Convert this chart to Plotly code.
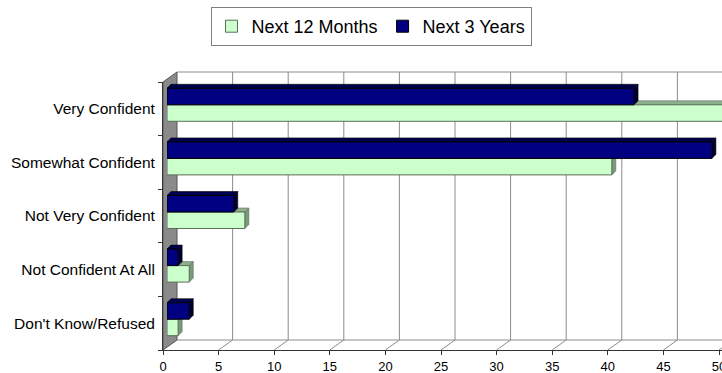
import plotly.graph_objects as go

# ---- data (top-to-bottom order) ----
categories = ["Very Confident", "Somewhat Confident", "Not Very Confident",
              "Not Confident At All", "Don't Know/Refused"]
next_12_months = [51, 40, 7, 2, 1]
next_3_years = [42, 49, 6, 1, 2]
series_names = ["Next 12 Months", "Next 3 Years"]
x_ticks = [0, 5, 10, 15, 20, 25, 30, 35, 40, 45, 50]

# ---- layout geometry (pixels) ----
W, H = 722, 373
X0 = 163            # front x pixel of value 0
K = 11.12           # px per unit
FT, FB = 82, 350    # front plot top / bottom
DX, DY = 14, 10     # back plane depth offset
BX, BY = 4, 4       # bar plane offset
D = 4               # bar depth
n = len(categories)
cat_px = (FB - FT) / n
W_BAR = 0.3077

def py(p):
    return 1 - p / H

pos = [n - 1 - i for i in range(n)]  # numeric positions, top category highest

fig = go.Figure()

colors = ["#CCFFCC", "#000080"]
line_colors = ["#5a6e5a", "#000000"]
top_colors = ["#8FB08F", "#000050"]
side_colors = ["#7A9A7A", "#000033"]
offsets = [-W_BAR, 0.0]
values = [next_12_months, next_3_years]

for s in range(2):
    fig.add_trace(go.Bar(
        x=values[s], y=pos, orientation="h", name=series_names[s],
        width=W_BAR, offset=offsets[s],
        marker=dict(color=colors[s], line=dict(color=line_colors[s], width=1)),
        xaxis="x2", yaxis="y2",
    ))

shapes = []
dxu = DX / K
# left wall
shapes.append(dict(type="path", xref="x", yref="paper", layer="below",
                   path=f"M 0,{py(FT)} L 0,{py(FB)} L {dxu},{py(FB-DY)} L {dxu},{py(FT-DY)} Z",
                   fillcolor="#8a8a8a", line=dict(color="#555555", width=1)))
# back gridlines
for v in x_ticks[1:]:
    shapes.append(dict(type="line", xref="x", yref="paper", layer="below",
                       x0=v + dxu, x1=v + dxu, y0=py(FB - DY), y1=py(FT - DY),
                       line=dict(color="#8c8c8c", width=1)))
# floor diagonals
for v in x_ticks[1:]:
    shapes.append(dict(type="line", xref="x", yref="paper", layer="below",
                       x0=v, x1=v + dxu, y0=py(FB), y1=py(FB - DY),
                       line=dict(color="#8c8c8c", width=1)))
# back floor line and back top line
for yy in (FB - DY, FT - DY):
    shapes.append(dict(type="line", xref="x", yref="paper", layer="below",
                       x0=dxu, x1=60, y0=py(yy), y1=py(yy),
                       line=dict(color="#8c8c8c", width=1)))
# 3D faces of bars
du = D / K
dv = D / cat_px
for s in range(2):
    for v, c in zip(values[s], pos):
        yb = c + offsets[s]
        yt = yb + W_BAR
        shapes.append(dict(type="path", xref="x2", yref="y2", layer="below",
                           path=f"M 0,{yt} L {v},{yt} L {v+du},{yt+dv} L {du},{yt+dv} Z",
                           fillcolor=top_colors[s], line=dict(color=line_colors[s], width=0.6)))
        shapes.append(dict(type="path", xref="x2", yref="y2", layer="below",
                           path=f"M {v},{yb} L {v},{yt} L {v+du},{yt+dv} L {v+du},{yb+dv} Z",
                           fillcolor=side_colors[s], line=dict(color=line_colors[s], width=0.6)))

font = dict(family="Liberation Sans, Arial, sans-serif", color="#000000")

fig.update_layout(
    width=W, height=H,
    margin=dict(l=0, r=0, t=0, b=0, pad=0),
    paper_bgcolor="white", plot_bgcolor="rgba(0,0,0,0)",
    barmode="overlay", showlegend=True,
    font=font,
    shapes=shapes,
    legend=dict(orientation="h", x=371 / W, xanchor="center", y=py(7), yanchor="top",
                bgcolor="white", bordercolor="#808080", borderwidth=1,
                font=dict(size=18, family=font["family"]), traceorder="normal",
                itemwidth=30, tracegroupgap=0),
    xaxis=dict(domain=[X0 / W, 1], range=[0, (W - X0) / K], anchor="y",
               tickvals=x_ticks, ticks="outside", ticklen=4, tickcolor="#333333",
               showline=True, linecolor="#333333", linewidth=1, showgrid=False,
               zeroline=False, tickfont=dict(size=13), ticklabelstandoff=0,
               ticklabeloverflow="allow",
               automargin=False, fixedrange=True),
    yaxis=dict(domain=[py(FB), py(FT)], range=[-0.5, n - 0.5], anchor="x",
               tickvals=pos, ticktext=categories, ticks="", showline=True,
               linecolor="#333333", linewidth=1, showgrid=False, zeroline=False,
               tickfont=dict(size=15.5), ticklabelstandoff=4,
               minor=dict(tickvals=[p - 0.5 for p in range(n + 1)], ticks="outside",
                          ticklen=4, tickcolor="#333333", showgrid=False),
               automargin=False, fixedrange=True),
    xaxis2=dict(domain=[(X0 + BX) / W, 1], range=[0, (W - X0 - BX) / K], anchor="y2",
                visible=False, showgrid=False, zeroline=False, fixedrange=True),
    yaxis2=dict(domain=[py(FB - BY), py(FT - BY)], range=[-0.5, n - 0.5], anchor="x2",
                visible=False, showgrid=False, zeroline=False, fixedrange=True),
)

fig.write_html("out.html")
